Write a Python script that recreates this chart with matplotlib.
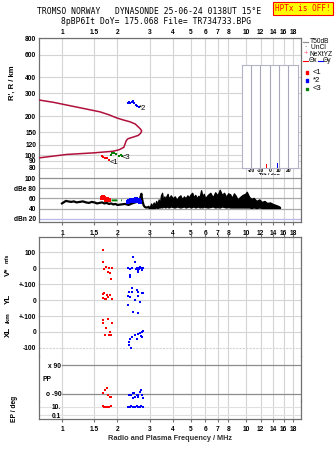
import numpy as np
import matplotlib.pyplot as plt
from matplotlib.lines import Line2D
from matplotlib.patches import Rectangle

plt.rcParams['font.family'] = ['Liberation Sans', 'DejaVu Sans']

# frequency axis (MHz)
freq_ticks = [1, 1.5, 2, 3, 4, 5, 6, 7, 8, 10, 12, 14, 16, 18]
freq_labels = ['1', '1.5', '2', '3', '4', '5', '6', '7', '8', '10', '12', '14', '16', '18']

# virtual / real height axis (km)
h_ticks = [800, 600, 400, 300, 200, 150, 120, 100, 90, 80]

# true height profile
prof_f = [0.70, 0.75, 0.9, 1.06, 1.3, 1.61, 1.8, 1.98, 2.15, 2.34, 2.50, 2.60, 2.67, 2.71,
          2.68, 2.60, 2.45, 2.29, 2.24, 2.22, 2.17, 2.05, 1.90, 1.5, 1.06, 0.75, 0.70]
prof_h = [272, 267, 256, 244, 230, 216, 205, 194, 187, 181, 174, 165, 159, 154,
          148, 142, 138, 134, 130, 126, 115, 110, 107, 104, 101, 95, 94]

# echo traces
e1_f = [1.64, 1.68, 1.71, 1.75, 1.79]
e1_h = [98, 96, 95, 94, 92]
e3_f = [1.85, 1.88, 1.92, 1.97, 2.03, 2.08, 2.12]
e3_h = [100, 103, 104, 101, 99, 100, 98]
e2_f = [2.27, 2.31, 2.35, 2.39, 2.43, 2.47, 2.52, 2.57, 2.62]
e2_h = [254, 256, 253, 258, 261, 252, 246, 240, 236]

# tilt inset
tilt_deg = [-3, 8]
tilt_cnt = [3, 4]
tilt_colors = ['#ff0000', '#0000ff']

# amplitude / noise (dB)
noise_f = [1.0, 1.02, 1.05, 1.08, 1.12, 1.16, 1.2, 1.25, 1.3, 1.35, 1.4, 1.45, 1.5, 1.55, 1.6,
           1.65, 1.7, 1.75, 1.8, 1.85, 1.9, 1.95, 2.0, 2.1, 2.2, 2.3, 2.4, 2.5, 2.6, 2.65,
           2.7, 2.72, 2.75, 2.78, 2.82, 2.86, 2.9, 2.95]
noise_db = [50, 52, 55, 54, 53, 54, 52, 53, 54, 52, 51, 53, 52, 50, 51,
            52, 50, 51, 49, 50, 48, 49, 47, 48, 49, 47, 50, 52, 54, 58,
            69, 60, 52, 46, 43, 42, 42, 43]
band_f = [2.95, 3.0, 3.05, 3.1, 3.15, 3.2, 3.25, 3.3, 3.35, 3.4, 3.45, 3.5, 3.55, 3.6, 3.65,
          3.7, 3.75, 3.8, 3.9, 4.0, 4.1, 4.2, 4.3, 4.4, 4.5, 4.6, 4.7, 4.8, 4.9, 5.0,
          5.1, 5.2, 5.3, 5.4, 5.5, 5.6, 5.7, 5.8, 5.9, 6.0, 6.2, 6.4, 6.6, 6.8, 7.0,
          7.2, 7.4, 7.6, 7.8, 8.0, 8.2, 8.4, 8.6, 8.8, 9.0, 9.3, 9.6, 9.9, 10.1, 10.4,
          10.7, 11.0, 11.4, 11.8, 12.2, 12.6, 13.0, 13.5, 14.0, 14.5, 15.0, 15.3]
band_hi = [44, 43, 50, 45, 52, 47, 55, 48, 58, 50, 66, 71, 55, 64, 58,
           65, 69, 59, 66, 60, 64, 57, 63, 66, 58, 64, 60, 66, 62, 68,
           71, 62, 67, 60, 65, 63, 76, 64, 69, 60, 67, 71, 62, 72, 66,
           77, 67, 71, 63, 70, 68, 61, 70, 65, 58, 63, 67, 69, 73, 63,
           59, 61, 55, 58, 53, 55, 51, 52, 49, 47, 45, 43]
band_lo = [41, 41, 41, 41, 41, 41, 42, 41, 42, 42, 43, 42, 44, 43, 42,
           44, 43, 42, 44, 43, 42, 44, 43, 42, 43, 44, 42, 43, 44, 42,
           43, 44, 42, 43, 44, 42, 43, 42, 44, 43, 42, 43, 44, 42, 43,
           42, 44, 43, 42, 43, 42, 42, 42, 42, 42, 42, 42, 42, 42, 42,
           41, 42, 41, 42, 41, 41, 41, 41, 41, 41, 41, 41]
a1_f = [1.64, 1.67, 1.70, 1.73, 1.76, 1.79]
a1_db = [60, 62, 60, 57, 58, 56]
a3_f = [1.86, 1.92, 1.98, 2.05, 2.12]
a3_db = [56, 56, 56, 57, 56]
a2_f = [2.27, 2.32, 2.37, 2.42, 2.47, 2.52, 2.57, 2.62, 2.67]
a2_db = [52, 55, 57, 54, 56, 58, 55, 57, 53]

# velocity V* (m/s)
v1_f = [1.68, 1.68, 1.73, 1.70, 1.86, 1.77, 1.82, 1.85, 1.80]
v1 = [114, 41, 10, -6, 0, -21, -31, -69, 2]
v2_f = [2.44, 2.49, 2.28, 2.34, 2.40, 2.52, 2.55, 2.60, 2.63, 2.67, 2.70, 2.72, 2.75, 2.34, 2.35, 2.60, 2.58]
v2 = [73, 41, 0, -2, 0, -6, 0, 5, -2, 10, 3, -10, 0, -42, -56, -8, -21]

# YL / XL (km)
yl1_f = [1.68, 1.70, 1.75, 1.68, 1.73, 1.77, 1.82, 1.86, 1.72]
yl1 = [40, 44, 33, 16, 10, 22, 33, 10, 6]
yl2_f = [2.34, 2.39, 2.31, 2.39, 2.55, 2.60, 2.71, 2.77, 2.28, 2.34, 2.49, 2.60, 2.65, 2.28, 2.44, 2.58]
yl2 = [106, 75, 54, 50, 64, 54, 44, 47, 27, 23, 2, 27, -9, -29, -71, -77]
xl1_f = [1.68, 1.68, 1.77, 1.86, 1.73, 1.82, 1.72, 1.80, 1.85]
xl1 = [76, 59, 81, 59, 24, 2, -19, -19, -19]
xl2_f = [2.71, 2.77, 2.65, 2.49, 2.39, 2.55, 2.34, 2.32, 2.31, 2.37, 2.60, 2.72, 2.68]
xl2 = [2, 8, -5, -19, -30, -47, -47, -62, -83, -104, -15, -30, -25]

# polarization PP (deg) and EP
pp1_f = [1.75, 1.72, 1.68, 1.77, 1.82, 1.85]
pp1 = [-56, -67, -88, -95, -109, -113]
pp2_f = [2.31, 2.36, 2.42, 2.47, 2.44, 2.55, 2.60, 2.65, 2.70, 2.72, 2.75, 2.49, 2.58]
pp2 = [-95, -98, -88, -88, -115, -98, -95, -81, -67, -95, -115, -113, -113]
ep1_f = [1.68, 1.70, 1.73, 1.77, 1.80, 1.84]
ep1 = [14, 8, 10, 9, 8, 12]
ep2_f = [2.28, 2.33, 2.38, 2.44, 2.49, 2.55, 2.60, 2.65, 2.70, 2.75]
ep2 = [9, 10, 12, 11, 10, 13, 9, 11, 12, 10]

RED, BLUE, GREEN = '#ff0000', '#0000ff', '#008000'
GRID = '#d4d4d4'
FRAME = '#707070'
W, H = 335, 451
TICK = dict(size=4.8, weight='bold')


def box(x0, y0, x1, y1):
    # pixel box (top-left origin) -> figure fraction
    return [x0 / W, 1 - y1 / H, (x1 - x0) / W, (y1 - y0) / H]


def freq_axis(ax):
    ax.set_xscale('log')
    ax.set_xlim(0.75, 19.9)
    ax.set_xticks(freq_ticks)
    ax.set_xticklabels(freq_labels, **TICK)
    ax.minorticks_off()
    for f in freq_ticks:
        ax.axvline(f, color=GRID, lw=0.8, zorder=0)
    for s in ax.spines.values():
        s.set_color(FRAME)
        s.set_linewidth(0.9)
    ax.tick_params(colors='black', length=0, pad=2)


def ylabels(ax, ticks, labels):
    ax.set_yticks(ticks)
    ax.set_yticklabels(labels, **TICK)


def dots(ax, f, y, c, ms=2.0):
    ax.plot(f, y, 's', color=c, ms=ms, mew=0, ls='none')


fig = plt.figure(figsize=(3.35, 4.51), dpi=100)

# titles
fig.text(149 / W, 1 - 12 / H, 'TROMSO NORWAY   DYNASONDE 25-06-24 0138UT 15°E',
         family='DejaVu Sans Mono', size=5.8, ha='center', va='center')
fig.text(156 / W, 1 - 21 / H, '8pBP6It DoY= 175.068 File= TR734733.BPG',
         family='DejaVu Sans Mono', size=5.8, ha='center', va='center')
fig.text(303 / W, 1 - 8.5 / H, 'HPTx is OFF!', family='DejaVu Sans Mono', size=5.6,
         color=RED, ha='center', va='center',
         bbox=dict(boxstyle='square,pad=0.25', fc='#ffff00', ec=RED, lw=0.8))

# ionogram panel
ax_h = fig.add_axes(box(39, 38.5, 301, 175))
freq_axis(ax_h)
ax_h.set_yscale('log')
ax_h.set_ylim(70, 800)
ax_h.minorticks_off()
ylabels(ax_h, h_ticks, [str(t) for t in h_ticks])
for t in h_ticks:
    ax_h.axhline(t, color=GRID, lw=0.8, zorder=0)
ax_h.xaxis.tick_top()
ax_h.spines['bottom'].set_visible(False)
ax_h.tick_params(length=0, pad=2)
ax_h.plot(prof_f, prof_h, color='#b0103c', lw=1.1, zorder=3)
dots(ax_h, e1_f, e1_h, RED)
dots(ax_h, e3_f, e3_h, GREEN)
dots(ax_h, e2_f, e2_h, BLUE)
ax_h.annotate('<1', (e1_f[-1], e1_h[-1]), xytext=(1, -2), textcoords='offset points',
              size=5.5, va='center')
ax_h.annotate('<3', (e3_f[-1], e3_h[-1]), xytext=(0, -1), textcoords='offset points',
              size=5.5, va='center')
ax_h.annotate('*2', (e2_f[-1], e2_h[-1]), xytext=(0, -1), textcoords='offset points',
              size=5.5, va='center')
fig.text(12 / W, 1 - 83 / H, "R', R / km", rotation=90, size=5.5, weight='bold',
         ha='center', va='center')

# tilt inset
ax_t = fig.add_axes(box(241.7, 65, 297.7, 167.7))
ax_t.set_xlim(-30, 30)
ax_t.set_ylim(0, 80)
for s in ax_t.spines.values():
    s.set_color('#b4b4c8')
    s.set_linewidth(0.8)
for d in [-20, -10, 0, 10, 20]:
    ax_t.axvline(d, color='#a8a8bc', lw=0.8, zorder=0)
ax_t.bar(tilt_deg, tilt_cnt, width=0.9, color=tilt_colors)
ax_t.set_xticks([-20, -10, 0, 10, 20])
ax_t.set_xticklabels(['-20', '-10', '0', '10', '20'], size=3.6, weight='bold')
ax_t.set_yticks([])
ax_t.tick_params(length=0, pad=0.5)
ax_t.set_xlabel('Tilt / deg', size=3.6, weight='bold', labelpad=0)

# legend column
fig.add_artist(Line2D([303 / W, 308 / W], [1 - 41.7 / H] * 2, color='#909090', lw=0.9))
fig.text(310 / W, 1 - 41.7 / H, 'T50dB', size=4.8, va='center')
fig.text(305 / W, 1 - 47.5 / H, '·  UnCl', size=4.8, va='center')
fig.text(304 / W, 1 - 54 / H, '+', size=5.5, va='center', color='#ff6080')
fig.text(310 / W, 1 - 54 / H, 'NeXtYZ', size=4.8, va='center')
fig.add_artist(Line2D([303 / W, 308 / W], [1 - 60.5 / H] * 2, color=RED, lw=0.8))
fig.text(308.5 / W, 1 - 60.5 / H, 'Θx', size=4.8, va='center')
fig.add_artist(Line2D([318 / W, 323 / W], [1 - 60.5 / H] * 2, color=BLUE, lw=0.8))
fig.text(323 / W, 1 - 60.5 / H, 'Θy', size=4.8, va='center')
for yy, c, lab in [(72.7, RED, '<1'), (80.7, BLUE, '*2'), (89, GREEN, '<3')]:
    fig.add_artist(Rectangle((305.5 / W, 1 - (yy + 1.3) / H), 2.6 / W, 2.6 / H, color=c))
    fig.text(313 / W, 1 - yy / H, lab, size=5.5, va='center')

# amplitude panel
ax_a = fig.add_axes(box(39, 175, 301, 221.7))
freq_axis(ax_a)
ax_a.set_ylim(14, 106)
ylabels(ax_a, [100, 80, 60, 40, 20], ['100', 'dBe 80', '60', '40', 'dBn 20'])
for t, c in [(100, '#909090'), (80, '#a8a8a8'), (60, '#a8a8a8'), (40, '#a8a8a8'), (20, '#b8b8e8')]:
    ax_a.axhline(t, color=c, lw=0.9, zorder=0)
ax_a.spines['top'].set_visible(False)
ax_a.tick_params(axis='x', length=2, pad=4, color=FRAME)
ax_a.plot(noise_f, noise_db, color='black', lw=1.6)
ax_a.fill_between(band_f, band_lo, band_hi, color='black', lw=0.9, ec='black')
dots(ax_a, a1_f, a1_db, RED, ms=2.2)
ax_a.plot(a3_f, a3_db, color=GREEN, lw=1.4, ls=(0, (3, 2)))
dots(ax_a, a2_f, a2_db, BLUE, ms=2.6)

# lower composite panel
ax_v = fig.add_axes(box(39, 237.3, 301, 284.3))
ax_yl = fig.add_axes(box(39, 284.3, 301, 316.3))
ax_xl = fig.add_axes(box(39, 316.3, 301, 356))
ax_pp = fig.add_axes(box(39, 356, 301, 401))
ax_ep = fig.add_axes(box(39, 401, 301, 419))
stack = [ax_v, ax_yl, ax_xl, ax_pp, ax_ep]
for ax in stack:
    freq_axis(ax)
    ax.patch.set_alpha(0)
    if ax is not ax_v:
        ax.spines['top'].set_visible(False)
    if ax is not ax_ep:
        ax.spines['bottom'].set_visible(False)
        ax.tick_params(axis='x', labelbottom=False)
ax_v.tick_params(axis='x', top=True, bottom=False, length=2, color=FRAME)
ax_ep.tick_params(axis='x', length=2, pad=3, color=FRAME)

ax_v.set_ylim(-100, 194)
ylabels(ax_v, [100, 0], ['100', '0'])
ax_yl.set_ylim(-100, 100)
ylabels(ax_yl, [100, 0], ['+-100', '0'])
ax_xl.set_ylim(-153, 100)
ylabels(ax_xl, [100, 0, -100], ['+-100', '0', '-100'])
for ax, ticks in [(ax_v, [100, 0]), (ax_yl, [100, 0]), (ax_xl, [100, 0])]:
    for t in ticks:
        ax.axhline(t, color=GRID, lw=0.8, zorder=0)
ax_xl.axhline(-100, color=GRID, lw=0.8, ls=(0, (2, 1)), zorder=0)

ax_pp.set_ylim(-136, 149)
ylabels(ax_pp, [90, -90], ['x 90', 'o -90'])
ax_pp.tick_params(axis='y', pad=-16)
for t in [90, -90]:
    ax_pp.axhline(t, xmin=0.089, color='#8c8c8c', lw=0.9, zorder=0)
ax_pp.text(0.012, 0.48, 'PP', transform=ax_pp.transAxes, va='center', **TICK)

ax_ep.set_yscale('log')
ax_ep.set_ylim(0.011, 236)
ax_ep.minorticks_off()
ylabels(ax_ep, [10, 0.1], ['10.', '0.1'])
ax_ep.tick_params(axis='y', pad=-16)
for t in [10, 0.1]:
    ax_ep.axhline(t, color='#e0e0e0', lw=0.8, zorder=0)

dots(ax_v, v1_f, v1, RED)
dots(ax_v, v2_f, v2, BLUE)
dots(ax_yl, yl1_f, yl1, RED)
dots(ax_yl, yl2_f, yl2, BLUE)
dots(ax_xl, xl1_f, xl1, RED)
dots(ax_xl, xl2_f, xl2, BLUE)
dots(ax_pp, pp1_f, pp1, RED)
dots(ax_pp, pp2_f, pp2, BLUE)
dots(ax_ep, ep1_f, ep1, RED)
dots(ax_ep, ep2_f, ep2, BLUE)

fig.text(7 / W, 1 - 258 / H, 'm/s', rotation=90, size=4, weight='bold', ha='center', va='center')
fig.text(8 / W, 1 - 272 / H, 'V*', rotation=90, size=5.8, weight='bold', ha='center', va='center')
fig.text(8 / W, 1 - 299 / H, 'YL', rotation=90, size=5.8, weight='bold', ha='center', va='center')
fig.text(8 / W, 1 - 318 / H, '/km', rotation=90, size=4.5, weight='bold', ha='center', va='center')
fig.text(8 / W, 1 - 332 / H, 'XL', rotation=90, size=5.8, weight='bold', ha='center', va='center')
fig.text(14 / W, 1 - 409 / H, 'EP / deg', rotation=90, size=4.8, weight='bold', ha='center', va='center')

fig.text(170 / W, 1 - 438 / H, 'Radio and Plasma Frequency / MHz', size=5.3, weight='bold',
         ha='center', va='center', color='#303030')

fig.savefig('out.png', dpi=100)
